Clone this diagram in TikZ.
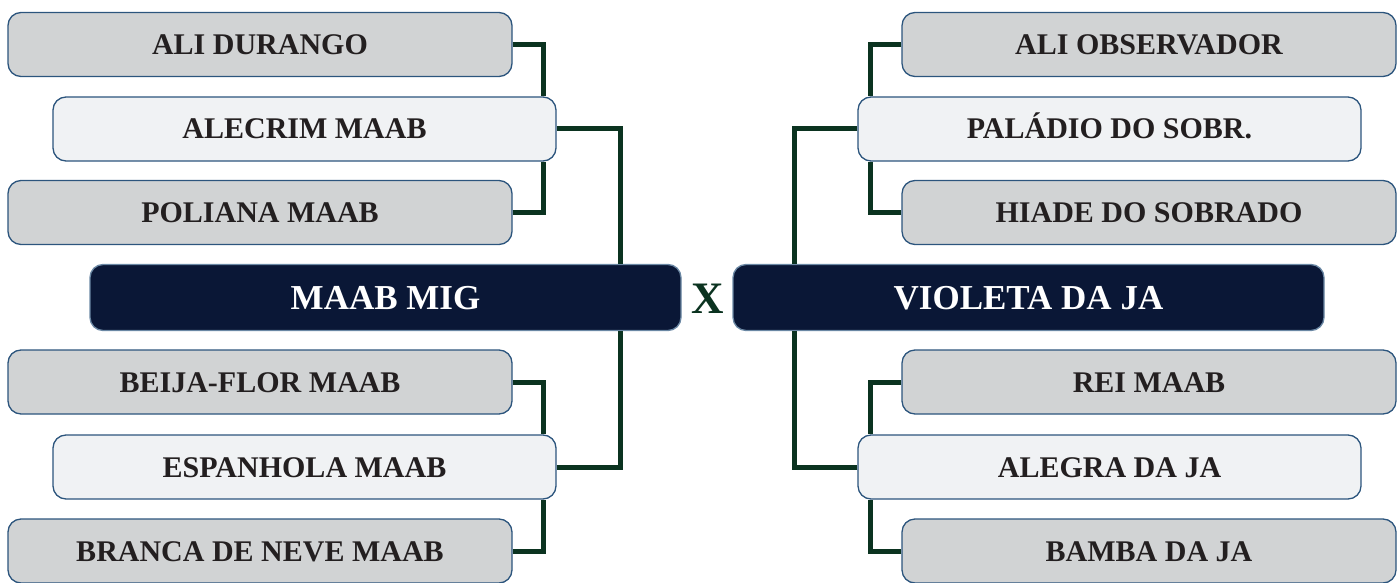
\documentclass[tikz,border=0pt]{standalone}
\usepackage{fontspec}
\setmainfont{Liberation Serif}
\definecolor{boxgray}{HTML}{D1D3D4}
\definecolor{boxlight}{HTML}{F0F2F4}
\definecolor{navy}{HTML}{0A1736}
\definecolor{edgeblue}{HTML}{2C557D}
\definecolor{linegreen}{HTML}{0B3320}
\definecolor{txt}{HTML}{231F20}
\tikzset{
  base/.style={draw=edgeblue, line width=1.3pt, rounded corners=13pt, inner sep=0pt,
    text height=20pt, text depth=0pt, font=\bfseries\fontsize{30}{30}\selectfont, text=txt,
    minimum height=64pt},
  small/.style={base, fill=boxgray, minimum width=504pt},
  mid/.style={base, fill=boxlight, minimum width=503pt},
  main/.style={base, fill=navy, draw=edgeblue!70!white, text=white, minimum width=591pt,
    minimum height=66pt, text height=23pt, font=\bfseries\fontsize{35}{35}\selectfont},
  conn/.style={draw=linegreen, line width=5pt},
  vs/.style={text=linegreen, font=\bfseries\fontsize{45}{45}\selectfont, inner sep=0pt,
    text height=30pt, text depth=0pt}
}
\begin{document}
\begin{tikzpicture}[x=1pt,y=-1pt]
\useasboundingbox (0,0) rectangle (1397,583);
\clip (0,0) rectangle (1397,583);
\coordinate (jL) at (543,0);
\coordinate (tL) at (620,0);
\coordinate (jR) at (870,0);
\coordinate (tR) at (794,0);
% left side
\node[small] (l1) at (260,44.5) {ALI DURANGO};
\node[mid]   (l2) at (304.5,129) {ALECRIM MAAB};
\node[small] (l3) at (260,212.5) {POLIANA MAAB};
\node[main]  (m1) at (385.5,297.5) {MAAB MIG};
\node[small] (l5) at (260,382) {BEIJA-FLOR MAAB};
\node[mid]   (l6) at (304.5,467) {ESPANHOLA MAAB};
\node[small] (l7) at (260,551) {BRANCA DE NEVE MAAB};
% right side
\node[small, minimum width=494pt] (r1) at (1149,44.5) {ALI OBSERVADOR};
\node[mid]   (r2) at (1109.5,129) {PALÁDIO DO SOBR.};
\node[small, minimum width=494pt] (r3) at (1149,212.5) {HIADE DO SOBRADO};
\node[main]  (m2) at (1028.5,297.5) {VIOLETA DA JA};
\node[small, minimum width=494pt] (r5) at (1149,382) {REI MAAB};
\node[mid]   (r6) at (1109.5,467) {ALEGRA DA JA};
\node[small, minimum width=494pt] (r7) at (1149,551) {BAMBA DA JA};
\node[vs] (vs) at (707.5,298) {X};
% connectors
\draw[conn] (l1.east) -| (jL |- l2.north);
\draw[conn] (l3.east) -| (jL |- l2.south);
\draw[conn] (l2.east) -| (tL |- m1.north);
\draw[conn] (l5.east) -| (jL |- l6.north);
\draw[conn] (l7.east) -| (jL |- l6.south);
\draw[conn] (l6.east) -| (tL |- m1.south);
\draw[conn] (r1.west) -| (jR |- r2.north);
\draw[conn] (r3.west) -| (jR |- r2.south);
\draw[conn] (r2.west) -| (tR |- m2.north);
\draw[conn] (r5.west) -| (jR |- r6.north);
\draw[conn] (r7.west) -| (jR |- r6.south);
\draw[conn] (r6.west) -| (tR |- m2.south);
\end{tikzpicture}
\end{document}
